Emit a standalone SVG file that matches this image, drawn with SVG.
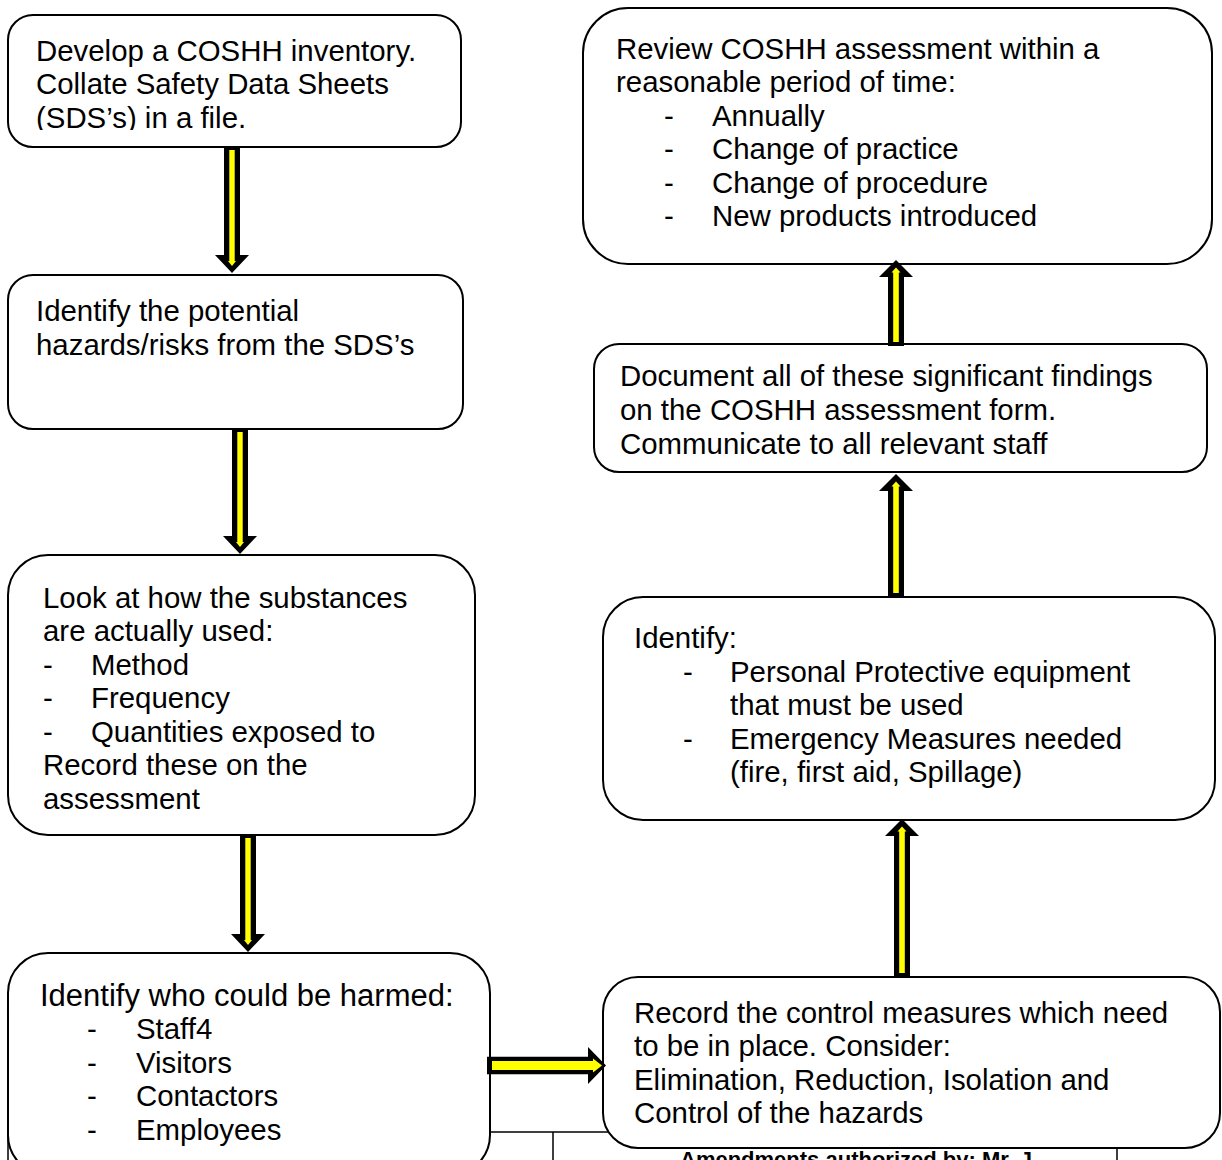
<svg xmlns="http://www.w3.org/2000/svg" width="1222" height="1160" viewBox="0 0 1222 1160">
<style>
.box{fill:#fff;stroke:#000;stroke-width:2}
.t{font-family:"Liberation Sans",Arial,sans-serif;font-size:29.4px;fill:#000}
.ab{fill:#000}
.ay{fill:#ff0}
.tbl{stroke:#000;stroke-width:1.5;fill:none}
.ft{font-family:"Liberation Sans",Arial,sans-serif;font-size:22px;font-weight:bold;fill:#000}
</style>
<defs>
<clipPath id="c1"><rect x="8" y="15" width="453" height="115"/></clipPath>
</defs>
<rect width="1222" height="1160" fill="#fff"/>
<g id="footer">
<path class="tbl" d="M8,1132 H1117 M8,1132 V1160 M553,1132 V1160 M1117,1132 V1160"/>
<text class="ft" x="680" y="1167">Amendments authorized by: Mr. J.</text>
</g>
<g id="n1">
<rect class="box" x="8" y="15" width="453" height="132" rx="25"/>
<g clip-path="url(#c1)">
<text class="t" x="36" y="60.5">Develop a COSHH inventory.</text>
<text class="t" x="36" y="94">Collate Safety Data Sheets</text>
<text class="t" x="36" y="127.5">(SDS’s) in a file.</text>
</g>
</g>
<g id="n2">
<rect class="box" x="8" y="275" width="455" height="154" rx="25"/>
<text class="t" x="36" y="320.5">Identify the potential</text>
<text class="t" x="36" y="354.5">hazards/risks from the SDS’s</text>
</g>
<g id="n3">
<rect class="box" x="8" y="555" width="467" height="280" rx="40"/>
<text class="t" x="43" y="607.5">Look at how the substances</text>
<text class="t" x="43" y="641">are actually used:</text>
<text class="t" x="43" y="674.5">-</text><text class="t" x="91" y="674.5">Method</text>
<text class="t" x="43" y="708">-</text><text class="t" x="91" y="708">Frequency</text>
<text class="t" x="43" y="741.5">-</text><text class="t" x="91" y="741.5">Quantities exposed to</text>
<text class="t" x="43" y="775">Record these on the</text>
<text class="t" x="43" y="808.5">assessment</text>
</g>
<g id="n4">
<rect class="box" x="8" y="953" width="482" height="222" rx="40"/>
<text class="t" x="40" y="1005.5" style="font-size:31px">Identify who could be harmed:</text>
<text class="t" x="87" y="1039">-</text><text class="t" x="136" y="1039">Staff4</text>
<text class="t" x="87" y="1072.5">-</text><text class="t" x="136" y="1072.5">Visitors</text>
<text class="t" x="87" y="1106">-</text><text class="t" x="136" y="1106">Contactors</text>
<text class="t" x="87" y="1139.5">-</text><text class="t" x="136" y="1139.5">Employees</text>
</g>
<g id="n5">
<rect class="box" x="583" y="8" width="629" height="256" rx="45"/>
<text class="t" x="616" y="58.5">Review COSHH assessment within a</text>
<text class="t" x="616" y="92">reasonable period of time:</text>
<text class="t" x="664" y="125.5">-</text><text class="t" x="712" y="125.5">Annually</text>
<text class="t" x="664" y="159">-</text><text class="t" x="712" y="159">Change of practice</text>
<text class="t" x="664" y="192.5">-</text><text class="t" x="712" y="192.5">Change of procedure</text>
<text class="t" x="664" y="226">-</text><text class="t" x="712" y="226">New products introduced</text>
</g>
<g id="n6">
<rect class="box" x="594" y="344" width="613" height="128" rx="25"/>
<text class="t" x="620" y="385.5">Document all of these significant findings</text>
<text class="t" x="620" y="419.5">on the COSHH assessment form.</text>
<text class="t" x="620" y="453.5">Communicate to all relevant staff</text>
</g>
<g id="n7">
<rect class="box" x="603" y="597" width="612" height="223" rx="40"/>
<text class="t" x="634" y="647.5">Identify:</text>
<text class="t" x="683" y="681.5">-</text><text class="t" x="730" y="681.5">Personal Protective equipment</text>
<text class="t" x="730" y="715">that must be used</text>
<text class="t" x="683" y="748.5">-</text><text class="t" x="730" y="748.5">Emergency Measures needed</text>
<text class="t" x="730" y="782">(fire, first aid, Spillage)</text>
</g>
<g id="n8">
<rect class="box" x="603" y="977" width="617" height="171" rx="35"/>
<text class="t" x="634" y="1022.5">Record the control measures which need</text>
<text class="t" x="634" y="1056">to be in place. Consider:</text>
<text class="t" x="634" y="1089.5">Elimination, Reduction, Isolation and</text>
<text class="t" x="634" y="1123">Control of the hazards</text>
</g>
<g id="connectors">
<path class="ab" d="M224,146 H240 V255 H249 L232,273 L215,255 H224 Z"/>
<path class="ay" d="M229.3,150 H234.7 V261 H236 L232,266 L228,261 H229.3 Z"/>
<path class="ab" d="M232,428 H248 V536 H257 L240,554 L223,536 H232 Z"/>
<path class="ay" d="M237.3,432 H242.7 V542 H244 L240,547 L236,542 H237.3 Z"/>
<path class="ab" d="M240,834 H256 V934 H265 L248,952 L231,934 H240 Z"/>
<path class="ay" d="M245.3,838 H250.7 V940 H252 L248,945 L244,940 H245.3 Z"/>
<path class="ab" d="M487,1056.7 H588 V1047 L606,1065.5 L588,1084 V1074.3 H487 Z"/>
<path class="ay" d="M492,1061 H593 V1058.5 L602,1065.5 L593,1072.5 V1070 H492 Z"/>
<path class="ab" d="M894,977 V836 H885 L902,819 L919,836 H910 V977 Z"/>
<path class="ay" d="M899.2,973 V831.5 H897.5 L902,826.5 L906.5,831.5 H904.8 V973 Z"/>
<path class="ab" d="M888,597 V491 H879 L896,474 L913,491 H904 V597 Z"/>
<path class="ay" d="M893.2,593 V486.5 H891.5 L896,481.5 L900.5,486.5 H898.8 V593 Z"/>
<path class="ab" d="M888,346 V277 H879 L896,260 L913,277 H904 V346 Z"/>
<path class="ay" d="M893.2,342 V272.5 H891.5 L896,267.5 L900.5,272.5 H898.8 V342 Z"/>
</g>
</svg>
